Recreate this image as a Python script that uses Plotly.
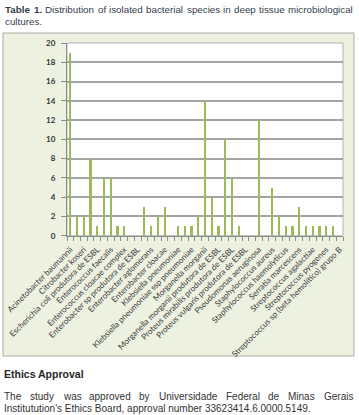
import plotly.graph_objects as go

# ---------------- data ----------------
positions = list(range(1, 42))
counts = [19, 2, 2, 8, 1, 6, 6, 1, 1, 0, 0, 3, 1, 2, 3, 0, 1, 1, 1, 2,
          14, 4, 1, 10, 6, 1, 0, 0, 12, 0, 5, 2, 1, 1, 3, 1, 1, 1, 1, 1, 0]
tick_labels = [
    "Acinetobacter baumannii",
    "Citrobacter koseri",
    "Escherichia coli produtora de ESBL",
    "Enterococcus faecalis",
    "Enterococcus cloacae complex",
    "Enterobacter sp produtora de ESBL",
    "Enterobacter aglomerans",
    "Enterobacter cloacae",
    "Klebsiella pneumoniae",
    "Klebsiella pneumoniae ssp pneumoniae",
    "Morganella morganii",
    "Morganella morganii produtora de ESBL",
    "Proteus mirabilis produtora de ESBL",
    "Proteus vulgaris produtora de ESBL",
    "Pseudomonas aeruginosa",
    "Staphylococcus aureus",
    "Staphylococcus haemolyticus",
    "Serratia marcescens",
    "Streptococcus agalactiae",
    "Streptococcus pyogenes",
    "Streptococcus sp (beta hemolítico) grupo B",
]
y_ticks = list(range(0, 21, 2))

W, H = 359, 415

# ------------- text width helper (Arial metrics) -------------
REG = {' ': 278, "'": 191, '(': 333, ')': 333, ',': 278, '.': 278, '-': 333}
for d in '0123456789':
    REG[d] = 556
REG.update(dict(A=667, B=667, C=722, D=722, E=667, F=611, G=778, H=722, I=278, J=500,
                K=667, L=556, M=833, N=722, O=778, P=667, Q=778, R=722, S=667, T=611,
                U=722, V=667, W=944, X=667, Y=667, Z=611))
REG.update(dict(a=556, b=556, c=500, d=556, e=556, f=278, g=556, h=556, i=222, j=222,
                k=500, l=222, m=833, n=556, o=556, p=556, q=556, r=333, s=500, t=278,
                u=556, v=500, w=722, x=500, y=500, z=500))
BOLD = dict(REG)
BOLD.update(dict(A=722, B=722, C=722, D=722, a=556, b=611, c=556, d=611, e=556, f=333,
                 g=611, h=611, i=278, j=278, k=556, l=278, m=889, n=611, o=611, p=611,
                 q=611, r=389, s=556, t=333, u=611, v=556, w=778, x=556, y=556, z=500))


def tw(s, size, bold=False):
    tab = BOLD if bold else REG
    return sum(tab.get(ch, 556) for ch in s) * size / 1000.0


annotations = []
FONT = "Liberation Sans, Arial, sans-serif"


def add_word(text, xpix, ypix, size, bold, color):
    annotations.append(dict(
        x=xpix / W, y=1 - ypix / H, xref="paper", yref="paper",
        xanchor="left", yanchor="middle", showarrow=False, borderpad=0,
        text=("<b>%s</b>" % text) if bold else text,
        font=dict(family=FONT, size=size, color=color)))


def justified(words, x0, x1, ypix, size, color):
    widths = [tw(w, size, b) for w, b in words]
    gap = (x1 - x0 - sum(widths)) / (len(words) - 1)
    x = x0
    for (w, b), wd in zip(words, widths):
        add_word(w, x, ypix, size, b, color)
        x += wd + gap


title_words = [("Table", True), ("1.", True)] + [
    (w, False) for w in "Distribution of isolated bacterial species in deep tissue microbiological".split()]
justified(title_words, 4, 352, 10, 9.8, "#34404c")
add_word("cultures.", 4, 21.5, 9.8, False, "#34404c")

add_word("Ethics Approval", 3, 374, 10.5, True, "#262626")
body1 = [(w, False) for w in "The study was approved by Universidade Federal de Minas Gerais".split()]
justified(body1, 3, 352, 396.5, 10, "#333333")
add_word("Institutution's Ethics Board, approval number 33623414.6.0000.5149.", 3, 408.5, 10, False, "#333333")

# ------------- geometry -------------
px_l, px_r = 67, 343
py_t, py_b = 43, 235.7

shapes = [
    dict(type="rect", xref="paper", yref="paper",
         x0=3 / W, x1=354 / W, y0=1 - 356 / H, y1=1 - 33 / H,
         fillcolor="#edf1df", line=dict(color="#a9aca2", width=1), layer="below"),
    dict(type="rect", xref="paper", yref="paper",
         x0=px_l / W, x1=px_r / W, y0=1 - py_b / H, y1=1 - py_t / H,
         fillcolor="#ffffff", line=dict(color="#b3b3b3", width=1), layer="below"),
]

fig = go.Figure()
fig.add_trace(go.Bar(x=positions, y=counts, width=0.32,
                     marker=dict(color="#9bbb59", line=dict(width=0)),
                     hoverinfo="x+y"))

fig.update_layout(
    width=W, height=H,
    margin=dict(l=0, r=0, t=0, b=0, autoexpand=False),
    paper_bgcolor="#ffffff", plot_bgcolor="rgba(0,0,0,0)",
    showlegend=False, bargap=0,
    shapes=shapes, annotations=annotations,
    xaxis=dict(domain=[px_l / W, px_r / W], range=[0.5, 41.5], automargin=False,
               tickmode="array", tickvals=positions[::2], ticktext=tick_labels,
               tickangle=-45, ticks="", showgrid=False, zeroline=False,
               ticklabelstandoff=5,
               showline=True, linecolor="#8c8c8c", linewidth=1,
               tickfont=dict(family="Lato, sans-serif", size=8.1, color="#3a3a3a"),
               minor=dict(ticks="outside", tick0=0.5, dtick=1, ticklen=4,
                          tickcolor="#8c8c8c", showgrid=False)),
    yaxis=dict(domain=[1 - py_b / H, 1 - py_t / H], range=[0, 20], automargin=False,
               tickmode="array", tickvals=y_ticks,
               ticks="outside", ticklen=5, tickcolor="#8c8c8c",
               ticklabelstandoff=4,
               showgrid=True, gridcolor="#a4a4a4", gridwidth=1.5,
               zeroline=False, showline=True, linecolor="#8c8c8c", linewidth=1,
               tickfont=dict(family="Lato, sans-serif", size=8, color="#333333",
                             weight="bold")),
)

fig.write_html("out.html", config={"displayModeBar": False},
               post_script="document.body.style.margin='0';document.body.style.overflow='hidden';")
